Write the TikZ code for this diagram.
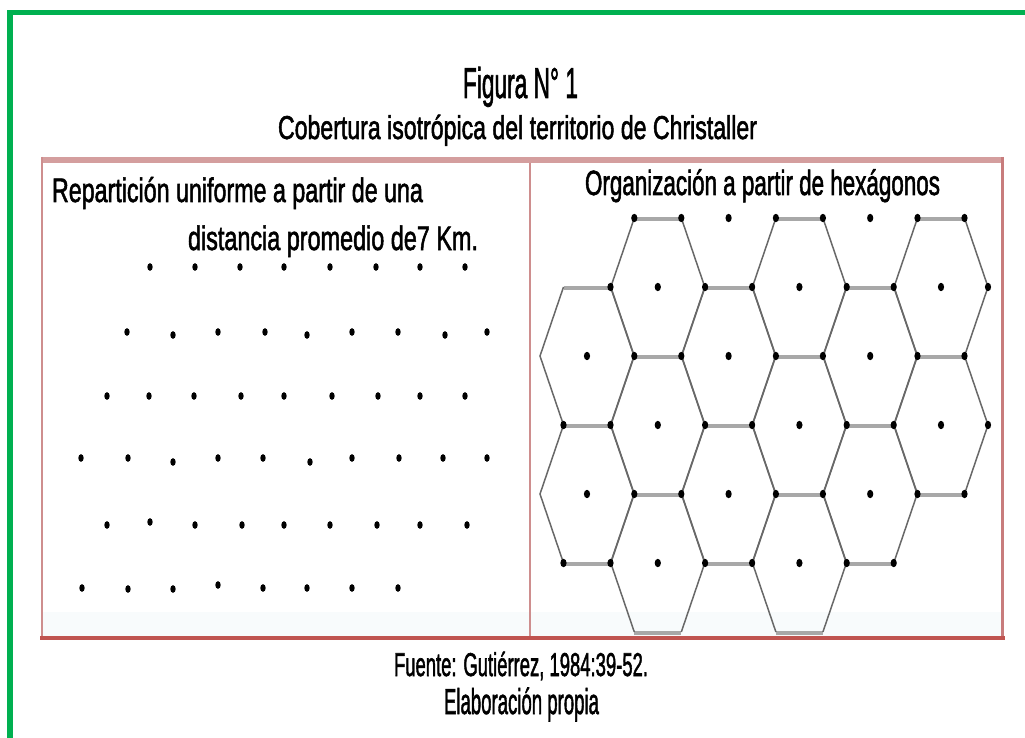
\documentclass[tikz,border=0pt]{standalone}
\usepackage{fontspec}
\setmainfont{Liberation Sans}
\newfontfamily\heavyfont{Liberation Sans}[FakeBold=2]
\definecolor{grn}{RGB}{0,176,80}
\definecolor{frtop}{RGB}{212,158,158}
\definecolor{frside}{RGB}{206,142,142}
\definecolor{frright}{RGB}{200,124,124}
\definecolor{frbot}{RGB}{192,84,80}
\definecolor{hexside}{RGB}{104,104,104}
\definecolor{hexbar}{RGB}{168,168,168}
\definecolor{band}{RGB}{248,251,252}
\newcommand{\fitw}[3]{\resizebox{#1pt}{\height}{\heavyfont\fontsize{#2}{#2}\selectfont #3}}
\begin{document}
\begin{tikzpicture}[x=1pt,y=-1pt,
  txt/.style={inner sep=0pt, outer sep=0pt, anchor=base west},
  hexedge/.style={hexside, line width=1.5pt},
  hexbarstyle/.style={hexbar, line width=4.5pt},
  dotl/.style={fill=black},
]
\useasboundingbox (0,0) rectangle (1025,738);
\clip (0,0) rectangle (1025,738);
\fill[white] (0,0) rectangle (1025,738);
% green outer border
\draw[grn, line width=5.5pt] (9.8,745) -- (9.8,12.3) -- (1035,12.3);
% frame
\fill[band] (43,612) rectangle (1001,636);
% hexagons
\foreach \cx/\cy in {587/356, 587/494, 657.8/287, 657.8/425, 657.8/563,
                     728.6/356, 728.6/494, 799.4/287, 799.4/425, 799.4/563,
                     870.2/356, 870.2/494, 941/287, 941/425} {
  \draw[hexbarstyle] (\cx-23.5,\cy-68) -- (\cx+23.5,\cy-68);
  \draw[hexbarstyle] (\cx-23.5,\cy+70) -- (\cx+23.5,\cy+70);
  \draw[hexedge] (\cx+23.5,\cy-69) -- (\cx+47,\cy) -- (\cx+23.5,\cy+69);
  \draw[hexedge] (\cx-23.5,\cy-69) -- (\cx-47,\cy) -- (\cx-23.5,\cy+69);
}
\draw[frtop, line width=6pt] (41,160) -- (1004,160);
\draw[frside, line width=2.5pt] (42,157) -- (42,640);
\draw[frright, line width=3pt] (1002.5,157) -- (1002.5,640);
\draw[frside, line width=1.5pt] (530,163) -- (530,636);
\draw[frbot, line width=4pt] (40,638) -- (1004.5,638);
% right panel dots
\foreach \x/\y in {
  634.3/218, 681.3/218, 728.6/218, 775.9/218, 822.9/218, 870.2/218, 917.5/218, 964.5/218,
  610.5/287, 657.8/287, 705.1/287, 752.1/287, 799.4/287, 846.7/287, 893.7/287, 941/287, 988/287,
  587/356, 634.3/356, 681.3/356, 728.6/356, 775.9/356, 822.9/356, 870.2/356, 917.5/356, 964.5/356,
  563.5/425, 610.5/425, 657.8/425, 705.1/425, 752.1/425, 799.4/425, 846.7/425, 893.7/425, 941/425, 988/425,
  587/494, 634.3/494, 681.3/494, 728.6/494, 775.9/494, 822.9/494, 870.2/494, 917.5/494, 964.5/494,
  563.5/563, 610.5/563, 657.8/563, 705.1/563, 752.1/563, 799.4/563, 846.7/563, 893.7/563} {
  \fill[dotl] (\x,\y) ellipse [x radius=3.1pt, y radius=4.2pt];
}
% left panel dots
\foreach \x/\y in {
  150/267, 195/267, 240/267, 284/267, 330/267, 376/267, 420/267, 465/267,
  127/332, 173/335, 218/332, 265/332, 307/335, 352/332, 398/332, 445/335, 487/332,
  107/396, 149/396, 194/396, 241/396, 284/396, 332/396, 378/396, 420/396, 465/396,
  81/458, 128/458, 173/462, 218/458, 263/458, 310/462, 352/458, 399/458, 443/458, 487/458,
  107/525, 150/522, 195/525, 242/525, 284/525, 330/525, 377/525, 420/525, 467/525,
  82/588, 128/589, 173/589, 218/585, 263/588, 307/588, 352/588, 398/588} {
  \fill[dotl] (\x,\y) ellipse [x radius=2.7pt, y radius=3.8pt];
}
% texts
\node[txt] (title) at (463,98) {\fitw{115}{43}{Figura N° 1}};
\node[txt] (subtitle) at (278,139) {\fitw{479}{33}{Cobertura isotrópica del territorio de Christaller}};
\node[txt] (lefthead1) at (52,202) {\fitw{371}{34}{Repartición uniforme a partir de una}};
\node[txt] (lefthead2) at (188,250) {\fitw{290}{34}{distancia promedio de7 Km.}};
\node[txt] (righthead) at (585,195) {\fitw{355}{35}{Organización a partir de hexágonos}};
\node[txt] (source) at (394,676) {\fitw{254}{33}{Fuente: Gutiérrez, 1984:39-52.}};
\node[txt] (own) at (444,714) {\fitw{155}{36}{Elaboración propia}};
\end{tikzpicture}
\end{document}
